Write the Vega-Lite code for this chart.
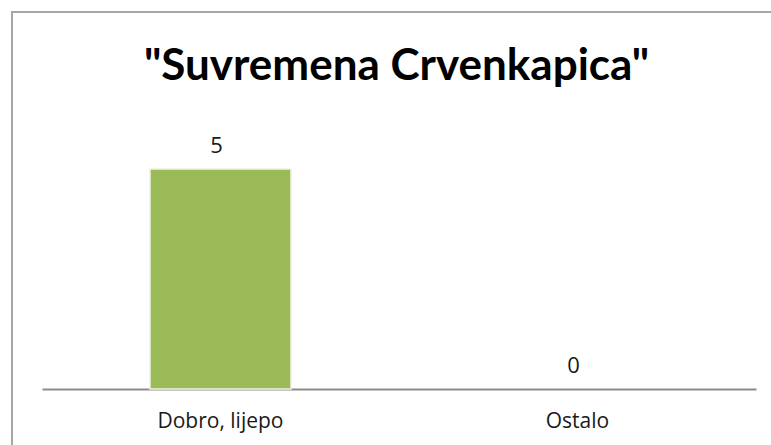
{
  "$schema": "https://vega.github.io/schema/vega-lite/v6.json",
  "autosize": {"type": "none"},
  "padding": {"left": 12, "top": 12, "right": -2, "bottom": -2},
  "width": 761,
  "height": 435,
  "background": "white",
  "config": {
    "view": {"stroke": "#a6a6a6", "strokeWidth": 2}
  },
  "title": {
    "text": "\"Suvremena Crvenkapica\"",
    "font": "Lato",
    "fontSize": 44,
    "fontWeight": "bold",
    "color": "#000000",
    "anchor": "middle",
    "frame": "group",
    "baseline": "alphabetic",
    "offset": -66,
    "dy": 46,
    "dx": 4
  },
  "data": {
    "values": [
      {"category": "Dobro, lijepo", "value": 5},
      {"category": "Ostalo", "value": 0}
    ]
  },
  "encoding": {
    "x": {
      "field": "category",
      "type": "nominal",
      "sort": null,
      "scale": {"range": [30, 744], "paddingInner": 0.6, "paddingOuter": 0.3},
      "axis": {
        "title": null,
        "orient": "bottom",
        "offset": -58,
        "labelAngle": 0,
        "ticks": false,
        "domainColor": "#8c8c8c",
        "domainWidth": 2,
        "labelFont": "Open Sans",
        "labelFontSize": 21,
        "labelColor": "#1a1a1a",
        "labelBaseline": "alphabetic",
        "labelPadding": 38
      }
    },
    "y": {
      "field": "value",
      "type": "quantitative",
      "scale": {"domain": [0, 5], "range": [377, 157], "nice": false, "zero": true},
      "axis": null
    }
  },
  "layer": [
    {
      "mark": {"type": "bar", "size": 141, "color": "#9bbb59", "stroke": "#eef3e2", "strokeWidth": 1.5},
      "encoding": {
        "strokeOpacity": {"condition": {"test": "datum.value > 0", "value": 1}, "value": 0}
      }
    },
    {
      "mark": {"type": "text", "font": "Open Sans", "fontSize": 22, "color": "#1a1a1a", "baseline": "alphabetic", "dy": -16, "dx": -4},
      "encoding": {"text": {"field": "value", "type": "quantitative"}}
    }
  ]
}
